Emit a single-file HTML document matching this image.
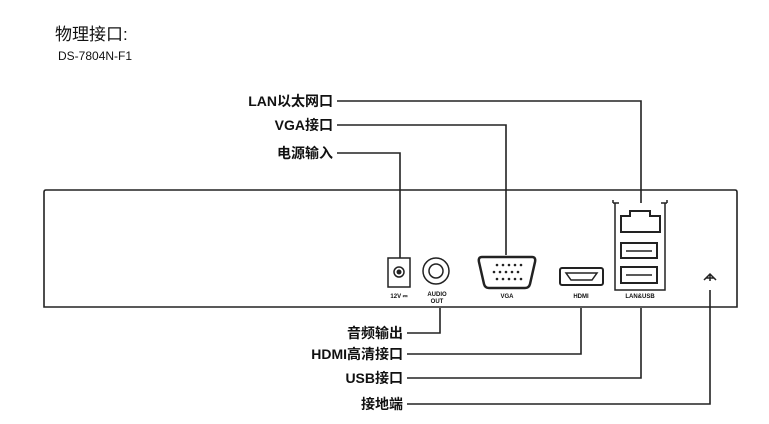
<!DOCTYPE html>
<html><head><meta charset="utf-8"><style>
body{margin:0;background:#fff;}
svg{display:block;}
text{font-family:"Liberation Sans","Noto Sans CJK SC",sans-serif;fill:#111;}
</style></head><body>
<svg width="769" height="424" viewBox="0 0 769 424" xmlns="http://www.w3.org/2000/svg">
<text x="55" y="40" font-size="17">物理接口:</text>
<text x="58" y="60" font-size="12">DS-7804N-F1</text>
<g fill="none" stroke="#222" stroke-width="1.6">
<path d="M46 190 H735 Q737 190 737 192 V307 H44 V192 Q44 190 46 190 Z"/>
<path d="M337 101 H641 V203"/>
<path d="M337 125 H506 V255"/>
<path d="M337 153 H400 V258"/>
<path d="M407 333 H440 V308"/>
<path d="M407 354 H581 V308"/>
<path d="M407 378 H641 V308"/>
<path d="M407 404 H710 V290"/>
</g>
<g font-size="14" font-weight="bold" text-anchor="end">
<text x="333" y="106">LAN以太网口</text>
<text x="333" y="130">VGA接口</text>
<text x="333" y="158">电源输入</text>
<text x="403" y="338">音频输出</text>
<text x="403" y="359">HDMI高清接口</text>
<text x="403" y="383">USB接口</text>
<text x="403" y="409">接地端</text>
</g>
<g fill="none" stroke="#222" stroke-width="1.5">
<rect x="388" y="258" width="22" height="29"/>
<circle cx="399" cy="272" r="5"/>
<circle cx="436" cy="271" r="13"/>
<circle cx="436" cy="271" r="7"/>
<path d="M482 257 H532 Q536 257 535 262 L530 284 Q529 288 525 288 H489 Q485 288 484 284 L479 262 Q478 257 482 257Z" stroke-width="2.5"/>
<rect x="560" y="268" width="43" height="17" rx="2" stroke-width="2"/>
<path d="M566 273 H597 L592 280 H571 Z"/>
<path d="M613 203 H619 M661 203 H667 M613 203 V200 M667 203 V200"/>
<path d="M615 203 V290 H665 V203"/>
<path d="M621 232 V216 H630 V211 H650 V216 H660 V232 Z" stroke-width="2"/>
<rect x="621" y="243" width="36" height="15" stroke-width="2"/>
<rect x="621" y="267" width="36" height="16" stroke-width="2"/>
<path d="M626 251 H652 M626 275 H652"/>
<path d="M704 280 L710 274 L716 280 M710 274 V281 M706 278 H714"/>
</g>
<g fill="#222">
<circle cx="399" cy="272" r="2.5"/>
<g font-size="6" font-weight="bold" text-anchor="middle">
<text x="399" y="298">12V ⎓</text>
<text x="437" y="296">AUDIO</text>
<text x="437" y="303">OUT</text>
<text x="507" y="298">VGA</text>
<text x="581" y="298">HDMI</text>
<text x="640" y="298">LAN&amp;USB</text>
</g>
</g>
<g fill="#222">
<circle cx="497" cy="265" r="1.3"/><circle cx="503" cy="265" r="1.3"/><circle cx="509" cy="265" r="1.3"/><circle cx="515" cy="265" r="1.3"/><circle cx="521" cy="265" r="1.3"/>
<circle cx="494" cy="272" r="1.3"/><circle cx="500" cy="272" r="1.3"/><circle cx="506" cy="272" r="1.3"/><circle cx="512" cy="272" r="1.3"/><circle cx="518" cy="272" r="1.3"/>
<circle cx="497" cy="279" r="1.3"/><circle cx="503" cy="279" r="1.3"/><circle cx="509" cy="279" r="1.3"/><circle cx="515" cy="279" r="1.3"/><circle cx="521" cy="279" r="1.3"/>
</g>
</svg>
</body></html>
